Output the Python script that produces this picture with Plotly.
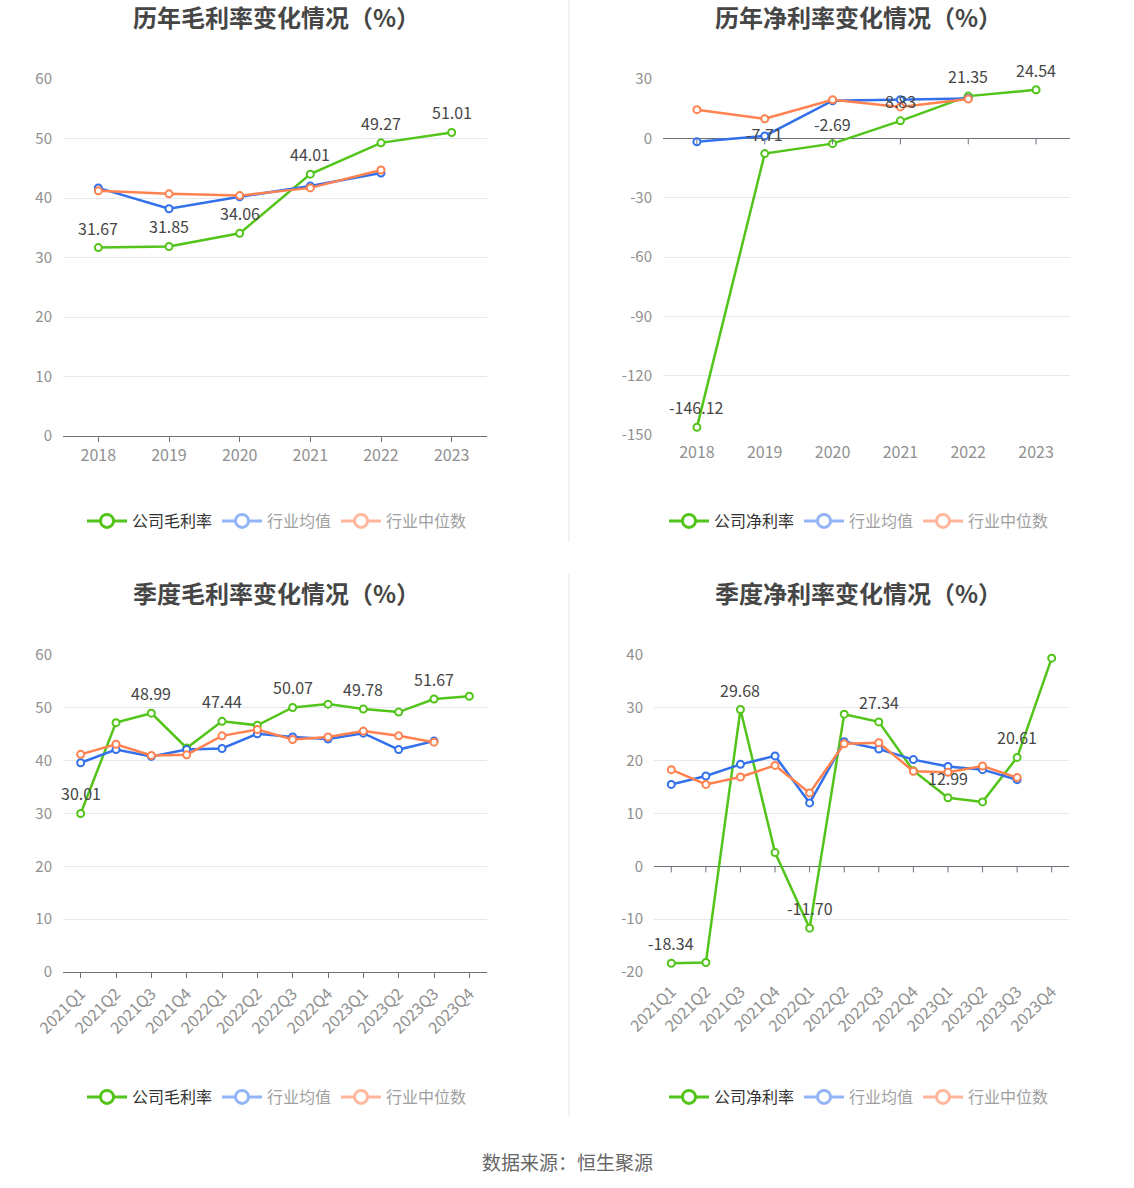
import plotly.graph_objects as go

# ---------------- data ----------------
years = ["2018", "2019", "2020", "2021", "2022", "2023"]
gross_company = [31.67, 31.85, 34.06, 44.01, 49.27, 51.01]
gross_avg = [41.7, 38.2, 40.2, 42.0, 44.2]
gross_median = [41.2, 40.7, 40.4, 41.7, 44.7]

net_company = [-146.12, -7.71, -2.69, 8.83, 21.35, 24.54]
net_avg = [-1.7, 1.2, 19.0, 19.5, 20.2]
net_median = [14.5, 9.9, 19.5, 15.9, 19.9]

quarters = ["2021Q1", "2021Q2", "2021Q3", "2021Q4", "2022Q1", "2022Q2",
            "2022Q3", "2022Q4", "2023Q1", "2023Q2", "2023Q3", "2023Q4"]
q_gross_company = [30.01, 47.2, 48.99, 42.4, 47.44, 46.7, 50.07, 50.7, 49.78, 49.2, 51.67, 52.2]
q_gross_avg = [39.6, 42.1, 40.8, 42.1, 42.3, 45.1, 44.5, 44.1, 45.2, 42.1, 43.7]
q_gross_median = [41.2, 43.1, 41.0, 41.1, 44.7, 45.9, 44.0, 44.5, 45.6, 44.7, 43.5]

q_net_company = [-18.34, -18.2, 29.68, 2.6, -11.70, 28.8, 27.34, 18.1, 12.99, 12.2, 20.61, 39.4]
q_net_avg = [15.5, 17.1, 19.3, 20.9, 12.0, 23.6, 22.2, 20.2, 18.9, 18.3, 16.4]
q_net_median = [18.3, 15.5, 16.9, 19.1, 13.9, 23.2, 23.4, 18.0, 17.8, 19.0, 16.8]

titles = ["历年毛利率变化情况（%）", "历年净利率变化情况（%）",
          "季度毛利率变化情况（%）", "季度净利率变化情况（%）"]
series_names_gross = ["公司毛利率", "行业均值", "行业中位数"]
series_names_net = ["公司净利率", "行业均值", "行业中位数"]
source_text = "数据来源：恒生聚源"

# ---------------- style ----------------
W, H = 1134, 1188
GREEN = "#52C41A"
BLUE = "#3370EB"
ORANGE = "#FF8250"
LIGHT_BLUE = "#93B5F7"
LIGHT_ORANGE = "#FFB69C"
GRID = "#E3E8F2"
AXIS = "#6E7079"
TICK = "#909090"
FONT = "Microsoft YaHei, Noto Sans CJK SC, sans-serif"


def px_x(p):
    return p / W


def px_y(p):
    return 1 - p / H


panels = [
    dict(cats=years, comp=gross_company, avg=gross_avg, med=gross_median,
         names=series_names_gross, rng=[0, 60], dtick=10,
         xd=[63, 487], yd=[79, 436], title_x=276, title_y=17, legend_x=277, legend_y=521,
         zero_axis=False, every=1, angle=0, xfont=16),
    dict(cats=years, comp=net_company, avg=net_avg, med=net_median,
         names=series_names_net, rng=[-150, 30], dtick=30,
         xd=[663, 1070], yd=[79, 435], title_x=858, title_y=17, legend_x=859, legend_y=521,
         zero_axis=True, every=1, angle=0, xfont=16),
    dict(cats=quarters, comp=q_gross_company, avg=q_gross_avg, med=q_gross_median,
         names=series_names_gross, rng=[0, 60], dtick=10,
         xd=[63, 487], yd=[655, 972], title_x=276, title_y=592, legend_x=277, legend_y=1097,
         zero_axis=False, every=2, angle=-45, xfont=16),
    dict(cats=quarters, comp=q_net_company, avg=q_net_avg, med=q_net_median,
         names=series_names_net, rng=[-20, 40], dtick=10,
         xd=[654, 1069], yd=[655, 972], title_x=858, title_y=592, legend_x=859, legend_y=1097,
         zero_axis=True, every=2, angle=-45, xfont=16),
]

fig = go.Figure()
annotations = []
shapes = []
layout_extra = {}

for k, p in enumerate(panels):
    idx = "" if k == 0 else str(k + 1)
    xa, ya = "x" + idx, "y" + idx
    leg = "legend" + idx

    def line_trace(y, color):
        return go.Scatter(
            x=p["cats"][:len(y)], y=y, mode="lines+markers",
            line=dict(color=color, width=2.5),
            marker=dict(symbol="circle", size=7, color="white", line=dict(color=color, width=2)),
            xaxis=xa, yaxis=ya, showlegend=False, hoverinfo="skip", cliponaxis=False)

    fig.add_trace(line_trace(p["comp"], GREEN))
    fig.add_trace(line_trace(p["avg"], BLUE))
    fig.add_trace(line_trace(p["med"], ORANGE))

    # value labels of the company series (x given as category index)
    for i, v in enumerate(p["comp"]):
        if i % p["every"] == 0:
            annotations.append(dict(
                x=i, y=v, xref=xa, yref=ya, text=f"{v:.2f}", showarrow=False,
                xanchor="center", yanchor="middle", yshift=20,
                font=dict(size=16, color="#464646", family=FONT)))

    # legend-only entries
    for name, color, tcol in [(p["names"][0], GREEN, "#333333"),
                              (p["names"][1], LIGHT_BLUE, "#A0A0A0"),
                              (p["names"][2], LIGHT_ORANGE, "#A0A0A0")]:
        fig.add_trace(go.Scatter(
            x=[None], y=[None], mode="lines+markers",
            name=f"<span style='color:{tcol}'>{name}</span>",
            line=dict(color=color, width=3),
            marker=dict(symbol="circle", size=13, color="white", line=dict(color=color, width=3)),
            xaxis=xa, yaxis=ya, legend=leg, showlegend=True))

    yticks = list(range(p["rng"][0], p["rng"][1] + 1, p["dtick"]))

    layout_extra["xaxis" + idx] = dict(
        domain=[px_x(p["xd"][0]), px_x(p["xd"][1])], anchor=ya,
        type="category", categoryorder="array", categoryarray=p["cats"],
        range=[-0.5, len(p["cats"]) - 0.5], automargin=False,
        showgrid=False, zeroline=False,
        showline=not p["zero_axis"], linecolor=AXIS, linewidth=1,
        ticks="outside", ticklen=5 if not p["zero_axis"] else 3,
        tickcolor=AXIS if not p["zero_axis"] else "rgba(0,0,0,0)",
        tickangle=p["angle"], tickfont=dict(size=p["xfont"], color=TICK, family=FONT),
        fixedrange=True)
    layout_extra["yaxis" + idx] = dict(
        domain=[px_y(p["yd"][1]), px_y(p["yd"][0])], anchor=xa,
        range=p["rng"], tickmode="array", tickvals=yticks,
        ticktext=[str(t) for t in yticks], automargin=False,
        showgrid=True, gridcolor=GRID, gridwidth=1,
        zeroline=p["zero_axis"], zerolinecolor=AXIS, zerolinewidth=1,
        showline=False, ticks="", ticklabelstandoff=10,
        tickfont=dict(size=15, color=TICK, family=FONT), fixedrange=True)
    layout_extra[leg] = dict(
        orientation="h", xref="container", yref="container",
        x=px_x(p["legend_x"]), xanchor="center",
        y=px_y(p["legend_y"]), yanchor="middle",
        font=dict(size=16, color="#333333", family=FONT),
        bgcolor="rgba(0,0,0,0)", itemwidth=40, tracegroupgap=0)

    if p["zero_axis"]:
        for i, c in enumerate(p["cats"]):
            shapes.append(dict(type="line", xref=xa, yref=ya, x0=i, x1=i,
                               ysizemode="pixel", yanchor=0, y0=0, y1=-6,
                               line=dict(color=AXIS, width=1)))

    annotations.append(dict(
        text=f"<b>{titles[k]}</b>", x=px_x(p["title_x"]), y=px_y(p["title_y"]),
        xref="paper", yref="paper", xanchor="center", yanchor="middle",
        showarrow=False, font=dict(size=24, color="#464646", family=FONT)))

annotations.append(dict(
    text=source_text, x=0.5, y=px_y(1161), xref="paper", yref="paper",
    xanchor="center", yanchor="middle", showarrow=False,
    font=dict(size=19, color="#666666", family=FONT)))

# separators
shapes.append(dict(type="line", xref="paper", yref="paper",
                   x0=px_x(569), x1=px_x(569), y0=px_y(0), y1=px_y(542),
                   line=dict(color="#EEEEEE", width=1.5)))
shapes.append(dict(type="line", xref="paper", yref="paper",
                   x0=px_x(569), x1=px_x(569), y0=px_y(574), y1=px_y(1117),
                   line=dict(color="#EEEEEE", width=1.5)))

fig.update_layout(
    width=W, height=H, margin=dict(l=0, r=0, t=0, b=0, autoexpand=False),
    paper_bgcolor="white", plot_bgcolor="white",
    font=dict(family=FONT), hovermode=False,
    annotations=annotations, shapes=shapes, **layout_extra)

fig.write_html("out.html", config={"displayModeBar": False, "staticPlot": True},
               post_script="document.body.style.margin='0';document.body.style.padding='0';")
